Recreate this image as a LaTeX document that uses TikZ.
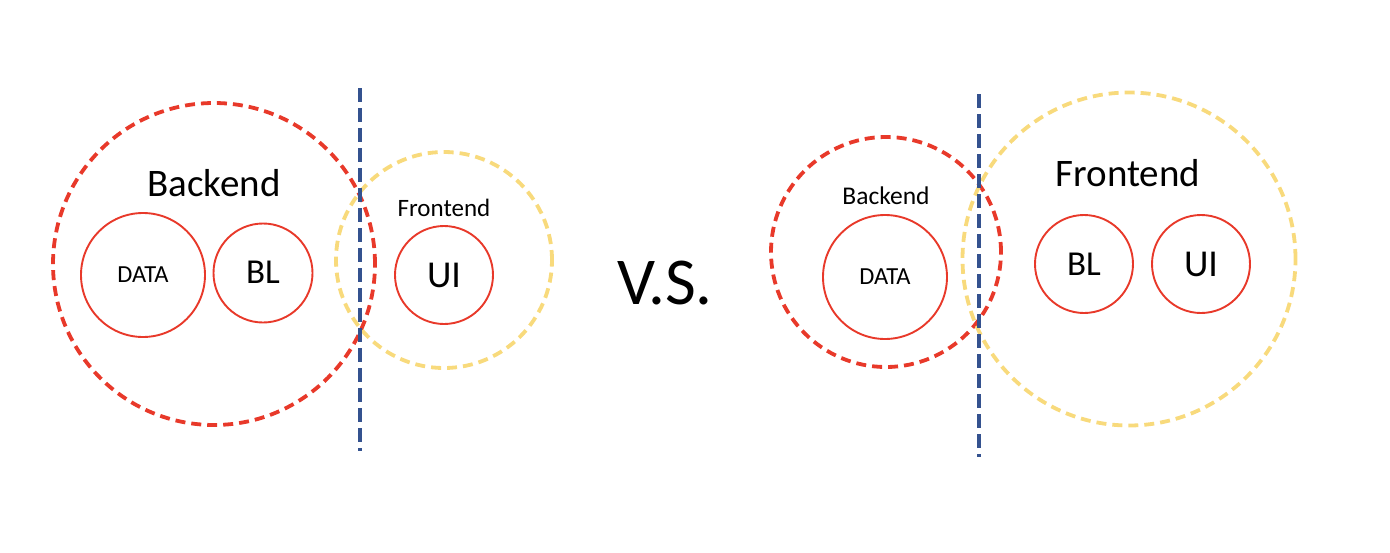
\documentclass[tikz,border=0pt]{standalone}
\usepackage{fontspec}
\setmainfont{Carlito}
\begin{document}
\begin{tikzpicture}[x=1pt,y=-1pt,
  outer/.style={circle,draw=#1,line width=3.8pt,dash pattern=on 10pt off 6pt,minimum size=0pt,inner sep=0pt},
  inner/.style={circle,draw=cred,line width=1.9pt,inner sep=0pt},
  divider/.style={draw=cblue,line width=3.8pt,dash pattern=on 14pt off 6pt},
  lbl/.style={inner sep=0pt,text=black}]
\definecolor{cred}{HTML}{E8392A}
\definecolor{cyel}{HTML}{F8DA7C}
\definecolor{cblue}{HTML}{34528F}
\useasboundingbox (0,0) rectangle (1390,552);
% left
\node[outer=cred,minimum size=322pt] (lback) at (214,264) {};
\node[outer=cyel,minimum size=216pt] (lfront) at (444,260) {};
\coordinate (lt) at (360,88);
\coordinate (lb) at (360,451);
\draw[divider] (lt) -- (lb);
\node[inner,minimum size=124pt] (ldata) at (143,275) {};
\node[inner,minimum size=99pt] (lbl) at (263,273) {};
\node[inner,minimum size=98pt] (lui) at (444,275) {};
\node[lbl,font=\fontsize{39}{41}\selectfont] (lbacklbl) at (214,183) {Backend};
\node[lbl,font=\fontsize{25}{27}\selectfont] (lfrontlbl) at (444,208) {Frontend};
\node[lbl,font=\fontsize{24.5}{26}\selectfont] (ldatalbl) at (143,275) {DATA};
\node[lbl,font=\fontsize{35}{37}\selectfont] (lbllbl) at (263,272) {BL};
\node[lbl,font=\fontsize{38}{40}\selectfont] (luilbl) at (444,275) {UI};
% middle
\node[lbl,font=\fontsize{67}{69}\selectfont] (vs) at (665,283) {V.S.};
% right
\node[outer=cred,minimum size=230pt] (rback) at (886,252) {};
\node[outer=cyel,minimum size=333pt] (rfront) at (1129,259) {};
\coordinate (rt) at (979,94);
\coordinate (rb) at (979,457);
\draw[divider] (rt) -- (rb);
\node[inner,minimum size=124pt] (rdata) at (885,277) {};
\node[inner,minimum size=98pt] (rbl) at (1084,264) {};
\node[inner,minimum size=98pt] (rui) at (1201,264) {};
\node[lbl,font=\fontsize{25.5}{27}\selectfont] (rbacklbl) at (886,196) {Backend};
\node[lbl,font=\fontsize{39}{41}\selectfont] (rfrontlbl) at (1128,173) {Frontend};
\node[lbl,font=\fontsize{24.5}{26}\selectfont] (rdatalbl) at (885,277) {DATA};
\node[lbl,font=\fontsize{35}{37}\selectfont] (rbllbl) at (1084,264) {BL};
\node[lbl,font=\fontsize{38}{40}\selectfont] (ruilbl) at (1201,264) {UI};
\end{tikzpicture}
\end{document}
